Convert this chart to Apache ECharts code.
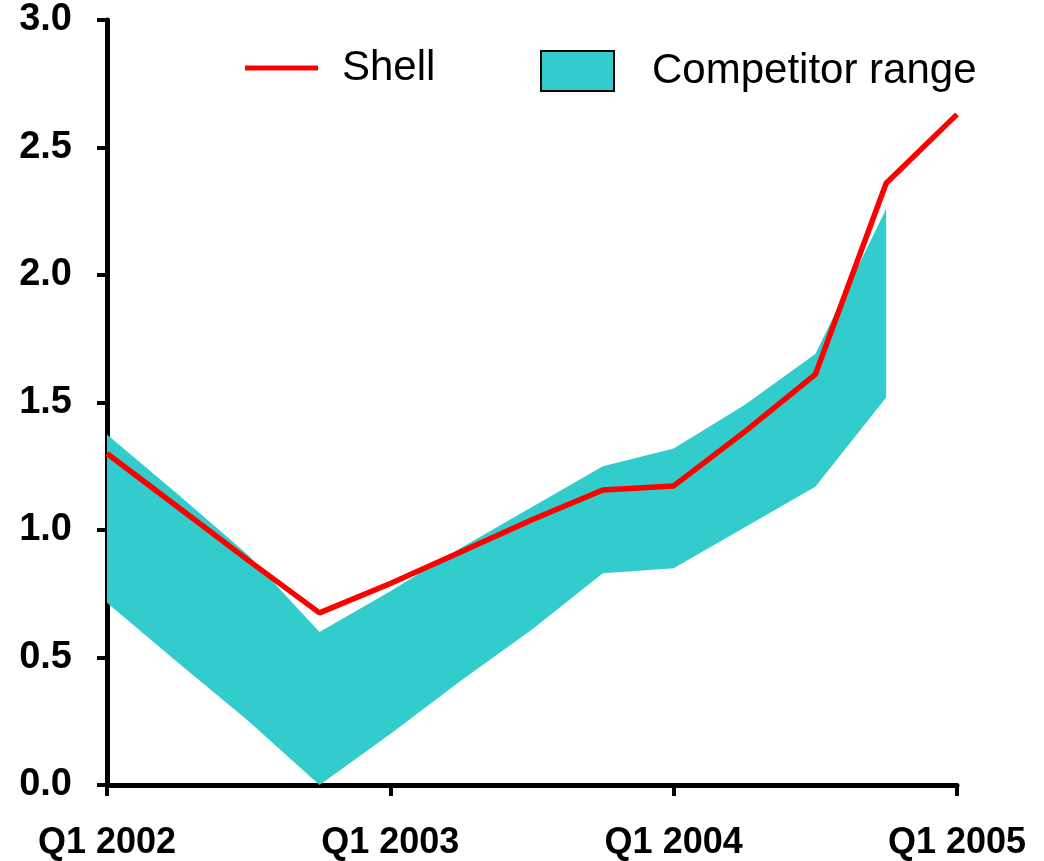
<!DOCTYPE html>
<html>
<head>
<meta charset="utf-8">
<script src="https://cdn.jsdelivr.net/npm/echarts@6/dist/echarts.min.js"></script>
<style>
  html, body { margin: 0; padding: 0; background: #fff; }
  #chart { width: 1044px; height: 861px; }
</style>
</head>
<body>
<div id="chart"></div>
<script>
// quarters on the x axis
var quarters = ['Q1 2002', 'Q2 2002', 'Q3 2002', 'Q4 2002',
  'Q1 2003', 'Q2 2003', 'Q3 2003', 'Q4 2003',
  'Q1 2004', 'Q2 2004', 'Q3 2004', 'Q4 2004', 'Q1 2005'];
// Shell line
var shell = [1.30, 1.09, 0.88, 0.675, 0.79, 0.915, 1.04, 1.157, 1.173, 1.385, 1.61, 2.36, 2.63];
// competitor range (low / high edge)
var rangeLow = [0.715, 0.48, 0.25, 0.0, 0.20, 0.41, 0.61, 0.83, 0.85, 1.01, 1.17, 1.52, null];
var rangeHigh = [1.375, 1.14, 0.90, 0.60, 0.76, 0.93, 1.09, 1.25, 1.32, 1.49, 1.69, 2.26, null];
var yTicks = [0, 0.5, 1.0, 1.5, 2.0, 2.5, 3.0];

var teal = '#33CCCC';
var red = '#FF0000';

// band height stacked on top of the low edge
var rangeSpan = rangeHigh.map(function (v, i) {
  return v == null ? null : +(v - rangeLow[i]).toFixed(3);
});

var chart = echarts.init(document.getElementById('chart'));
chart.setOption({
  animation: false,
  textStyle: { fontFamily: 'Liberation Sans, Arial, sans-serif' },
  grid: { left: 107, right: 87, top: 20, bottom: 76 },
  legend: [
    {
      left: 245, top: 47, padding: 0,
      itemWidth: 73, itemHeight: 5,
      data: [{ name: 'Shell', icon: 'rect', itemStyle: { color: red } }],
      textStyle: { fontSize: 42, color: '#000', padding: [0, 0, 0, 19] }
    },
    {
      left: 540, top: 50, padding: 0,
      itemWidth: 73, itemHeight: 40,
      data: [{
        name: 'Competitor range', icon: 'rect',
        itemStyle: { color: teal, borderColor: '#000', borderWidth: 2 }
      }],
      textStyle: { fontSize: 42, color: '#000', padding: [0, 0, 0, 33] }
    }
  ],
  xAxis: {
    type: 'category',
    data: quarters,
    boundaryGap: false,
    axisLine: { lineStyle: { color: '#000', width: 5 } },
    axisTick: { interval: 3, length: 11, lineStyle: { color: '#000', width: 4 } },
    axisLabel: {
      interval: 3, margin: 40,
      fontSize: 36, fontWeight: 'bold', color: '#000'
    },
    splitLine: { show: false }
  },
  yAxis: {
    type: 'value',
    min: yTicks[0], max: yTicks[yTicks.length - 1], interval: 0.5,
    axisLine: { show: true, lineStyle: { color: '#000', width: 5 } },
    axisTick: { show: true, length: 10, lineStyle: { color: '#000', width: 4 } },
    axisLabel: {
      margin: 35, fontSize: 38, fontWeight: 'bold', color: '#000',
      formatter: function (v) { return v.toFixed(1); }
    },
    splitLine: { show: false }
  },
  series: [
    {
      name: 'low',
      type: 'line',
      stack: 'band',
      data: rangeLow,
      symbol: 'none',
      lineStyle: { opacity: 0 },
      silent: true,
      z: 1
    },
    {
      name: 'Competitor range',
      type: 'line',
      stack: 'band',
      data: rangeSpan,
      symbol: 'none',
      lineStyle: { width: 0, opacity: 0 },
      itemStyle: { color: teal },
      areaStyle: { color: teal, opacity: 1 },
      z: 2
    },
    {
      name: 'Shell',
      type: 'line',
      data: shell,
      symbol: 'none',
      itemStyle: { color: red },
      lineStyle: { color: red, width: 5.5 },
      z: 3
    }
  ]
});
</script>
</body>
</html>
